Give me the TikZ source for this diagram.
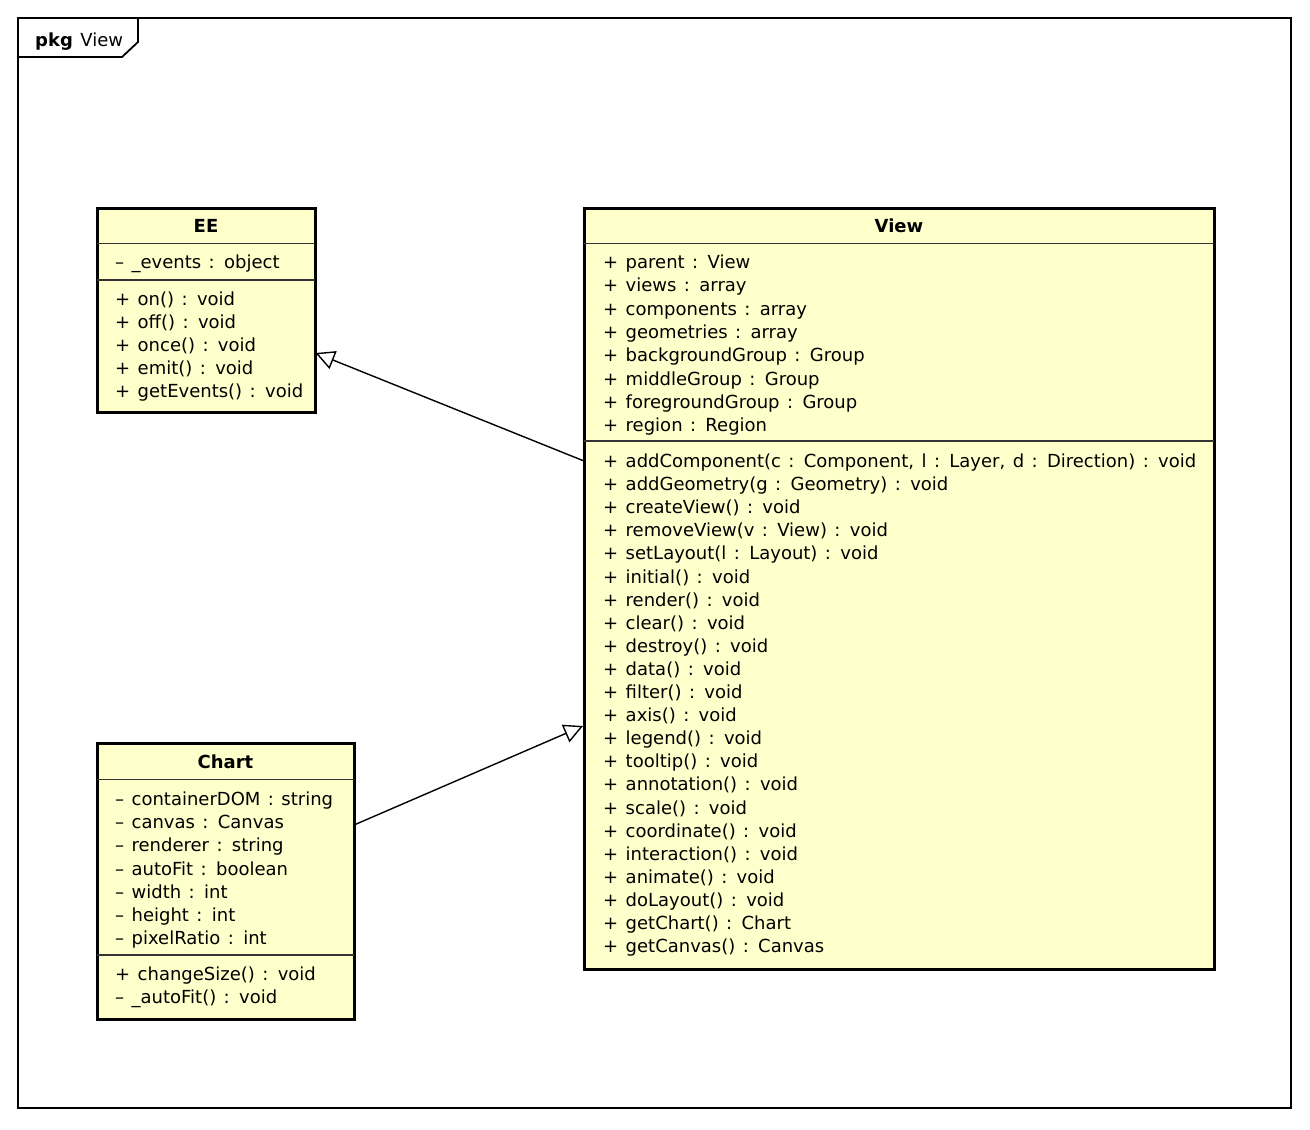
\documentclass[tikz,border=0pt]{standalone}
\usepackage{fontspec}
\setmainfont[WordSpace=1.3]{DejaVu Sans}
\usetikzlibrary{arrows.meta}
\definecolor{clsfill}{HTML}{FFFFCC}
\tikzset{
  clsbox/.style={draw=black, line width=3pt, fill=clsfill, anchor=north west, inner sep=0pt, outer sep=0pt},
  sepline/.style={draw=black!80, line width=1.3pt},
  txt/.style={anchor=base west, inner sep=0pt, font=\fontsize{18}{22}\selectfont},
  ttl/.style={anchor=base, inner sep=0pt, font=\fontsize{18}{22}\selectfont\bfseries},
  gen/.style={line width=1.4pt, -{Triangle[open, length=19pt, width=19pt, fill=white]}},
  frameline/.style={line width=1.8pt}
}
\begin{document}
\begin{tikzpicture}[x=1pt,y=-1pt]
\useasboundingbox (0,0) rectangle (1310,1130);
\fill[white] (0,0) rectangle (1310,1130);
% package frame
\draw[frameline] (18,18) rectangle (1291,1108);
\draw[frameline] (18,57) -- (122,57) -- (138,42) -- (138,18);
\node[txt] (pkg) at (35,46) {\textbf{pkg} View};

% EE
\node[clsbox, minimum width=218pt, minimum height=204pt] (ee) at (97,208) {};
\node[ttl] (eet) at (206,232.5) {EE};
\draw[sepline] (97,243.5) -- (315,243.5);
\node[txt] (eea0) at (115,268.5) {– \_events : object};
\draw[sepline] (97,280) -- (315,280);
\foreach \t [count=\i from 0] in {{+ on() : void},{+ off() : void},{+ once() : void},{+ emit() : void},{+ getEvents() : void}}
  \node[txt] (eem\i) at (115,{305.5+23.1*\i}) {\t};

% View
\node[clsbox, minimum width=630pt, minimum height=761pt] (view) at (584,208) {};
\node[ttl] (viewt) at (899,232.5) {View};
\draw[sepline] (584,243.5) -- (1214,243.5);
\foreach \t [count=\i from 0] in {{+ parent : View},{+ views : array},{+ components : array},{+ geometries : array},{+ backgroundGroup : Group},{+ middleGroup : Group},{+ foregroundGroup : Group},{+ region : Region}}
  \node[txt] (viewa\i) at (603,{268.5+23.3*\i}) {\t};
\draw[sepline] (584,441) -- (1214,441);
\foreach \t [count=\i from 0] in {{+ addComponent(c : Component, l : Layer, d : Direction) : void},{+ addGeometry(g : Geometry) : void},{+ createView() : void},{+ removeView(v : View) : void},{+ setLayout(l : Layout) : void},{+ initial() : void},{+ render() : void},{+ clear() : void},{+ destroy() : void},{+ data() : void},{+ filter() : void},{+ axis() : void},{+ legend() : void},{+ tooltip() : void},{+ annotation() : void},{+ scale() : void},{+ coordinate() : void},{+ interaction() : void},{+ animate() : void},{+ doLayout() : void},{+ getChart() : Chart},{+ getCanvas() : Canvas}}
  \node[txt] (viewm\i) at (603,{467.5+23.1*\i}) {\t};

% Chart
\node[clsbox, minimum width=257pt, minimum height=276pt] (chart) at (97,743) {};
\node[ttl] (chartt) at (225.5,768.5) {Chart};
\draw[sepline] (97,779.5) -- (354,779.5);
\foreach \t [count=\i from 0] in {{– containerDOM : string},{– canvas : Canvas},{– renderer : string},{– autoFit : boolean},{– width : int},{– height : int},{– pixelRatio : int}}
  \node[txt] (charta\i) at (115,{805.5+23.2*\i}) {\t};
\draw[sepline] (97,955) -- (354,955);
\foreach \t [count=\i from 0] in {{+ changeSize() : void},{– \_autoFit() : void}}
  \node[txt] (chartm\i) at (115,{980.5+23.1*\i}) {\t};

% generalizations
\coordinate (vfrom) at (584,461);
\coordinate (eeto) at (315.5,353);
\coordinate (cfrom) at (354,825);
\coordinate (vto) at (583,726);
\draw[gen] (vfrom) -- (eeto);
\draw[gen] (cfrom) -- (vto);
\end{tikzpicture}
\end{document}
